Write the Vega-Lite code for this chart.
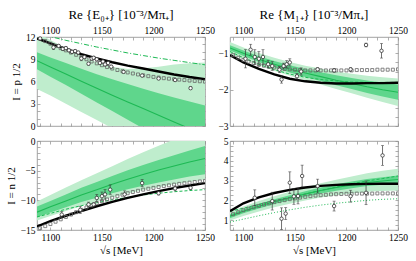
{
"$schema": "https://vega.github.io/schema/vega-lite/v6.json",
"padding": {"left": 4, "top": 8, "right": 8, "bottom": 0},
"config": {
 "view": {"stroke": "#8c8c8c", "strokeWidth": 0.8},
 "axis": {"labelFont": "Liberation Serif", "labelFontSize": 9.5, "labelColor": "#000", "titleFont": "Liberation Serif", "titleFontSize": 11, "titleFontWeight": "normal", "titleColor": "#000", "domain": false, "grid": false, "tickColor": "#8c8c8c", "tickSize": -3, "tickWidth": 0.7, "labelPadding": 5, "labelFlush": false, "labelOverlap": false, "zindex": 1},
 "title": {"font": "Liberation Serif", "fontSize": 13, "fontWeight": "normal", "color": "#000", "offset": 3}
},
"datasets": {
"band": [
{"p":"E0p","x":1087,"c":8.8,"d1":7.64,"d2":9.96,"l1":5.0,"l2":12.6},
{"p":"E0p","x":1100,"c":7.95,"d1":6.65,"d2":9.25,"l1":4.1,"l2":11.6},
{"p":"E0p","x":1115,"c":7.0,"d1":5.52,"d2":8.48,"l1":3.0,"l2":10.5},
{"p":"E0p","x":1130,"c":6.03,"d1":4.35,"d2":7.71,"l1":1.9,"l2":9.5},
{"p":"E0p","x":1145,"c":5.08,"d1":3.18,"d2":6.98,"l1":0.8,"l2":8.6},
{"p":"E0p","x":1160,"c":4.15,"d1":2.01,"d2":6.29,"l1":-0.3,"l2":8.0},
{"p":"E0p","x":1175,"c":3.25,"d1":0.85,"d2":5.65,"l1":-1.4,"l2":7.7},
{"p":"E0p","x":1190,"c":2.35,"d1":-0.33,"d2":5.03,"l1":-2.5,"l2":7.8},
{"p":"E0p","x":1205,"c":1.45,"d1":-1.53,"d2":4.43,"l1":-3.6,"l2":8.0},
{"p":"E0p","x":1220,"c":0.55,"d1":-2.75,"d2":3.85,"l1":-4.7,"l2":8.3},
{"p":"E0p","x":1235,"c":-0.35,"d1":-3.99,"d2":3.29,"l1":-5.8,"l2":8.45},
{"p":"E0p","x":1250,"c":-1.25,"d1":-5.25,"d2":2.75,"l1":-6.9,"l2":8.55},
{"p":"M1p","x":1087,"c":-0.85,"d1":-0.92,"d2":-0.78,"l1":-1.01,"l2":-0.69},
{"p":"M1p","x":1100,"c":-1.0,"d1":-1.075,"d2":-0.925,"l1":-1.16,"l2":-0.84},
{"p":"M1p","x":1115,"c":-1.16,"d1":-1.24,"d2":-1.08,"l1":-1.33,"l2":-0.99},
{"p":"M1p","x":1130,"c":-1.3,"d1":-1.39,"d2":-1.21,"l1":-1.48,"l2":-1.12},
{"p":"M1p","x":1145,"c":-1.43,"d1":-1.53,"d2":-1.33,"l1":-1.62,"l2":-1.24},
{"p":"M1p","x":1160,"c":-1.54,"d1":-1.65,"d2":-1.43,"l1":-1.74,"l2":-1.34},
{"p":"M1p","x":1175,"c":-1.64,"d1":-1.76,"d2":-1.52,"l1":-1.86,"l2":-1.42},
{"p":"M1p","x":1190,"c":-1.74,"d1":-1.875,"d2":-1.605,"l1":-1.98,"l2":-1.5},
{"p":"M1p","x":1205,"c":-1.83,"d1":-1.98,"d2":-1.68,"l1":-2.1,"l2":-1.56},
{"p":"M1p","x":1220,"c":-1.92,"d1":-2.09,"d2":-1.75,"l1":-2.22,"l2":-1.62},
{"p":"M1p","x":1235,"c":-2.0,"d1":-2.19,"d2":-1.81,"l1":-2.34,"l2":-1.66},
{"p":"M1p","x":1250,"c":-2.07,"d1":-2.28,"d2":-1.86,"l1":-2.45,"l2":-1.69},
{"p":"E0n","x":1087,"c":-12.0,"d1":-12.85,"d2":-11.05,"l1":-13.4,"l2":-10.2},
{"p":"E0n","x":1100,"c":-11.1,"d1":-12.05,"d2":-10.1,"l1":-12.65,"l2":-9.1},
{"p":"E0n","x":1115,"c":-10.1,"d1":-11.15,"d2":-9.0,"l1":-11.8,"l2":-7.85},
{"p":"E0n","x":1130,"c":-9.1,"d1":-10.3,"d2":-7.9,"l1":-10.95,"l2":-6.6},
{"p":"E0n","x":1145,"c":-8.2,"d1":-9.55,"d2":-6.9,"l1":-10.2,"l2":-5.45},
{"p":"E0n","x":1160,"c":-7.3,"d1":-8.8,"d2":-5.9,"l1":-9.5,"l2":-4.25},
{"p":"E0n","x":1175,"c":-6.45,"d1":-8.15,"d2":-4.95,"l1":-8.85,"l2":-3.05},
{"p":"E0n","x":1190,"c":-5.65,"d1":-7.55,"d2":-4.05,"l1":-8.25,"l2":-1.9},
{"p":"E0n","x":1205,"c":-4.9,"d1":-7.0,"d2":-3.2,"l1":-7.75,"l2":-0.8},
{"p":"E0n","x":1220,"c":-4.2,"d1":-6.5,"d2":-2.4,"l1":-7.3,"l2":0.25},
{"p":"E0n","x":1235,"c":-3.55,"d1":-6.0,"d2":-1.6,"l1":-6.85,"l2":1.25},
{"p":"E0n","x":1250,"c":-2.95,"d1":-5.6,"d2":-0.85,"l1":-6.5,"l2":2.25},
{"p":"M1n","x":1087,"c":1.2,"d1":1.1,"d2":1.3,"l1":0.98,"l2":1.42},
{"p":"M1n","x":1100,"c":1.45,"d1":1.35,"d2":1.55,"l1":1.21,"l2":1.69},
{"p":"M1n","x":1115,"c":1.7,"d1":1.59,"d2":1.81,"l1":1.44,"l2":1.96},
{"p":"M1n","x":1130,"c":1.93,"d1":1.81,"d2":2.05,"l1":1.65,"l2":2.21},
{"p":"M1n","x":1145,"c":2.13,"d1":2.0,"d2":2.26,"l1":1.83,"l2":2.43},
{"p":"M1n","x":1160,"c":2.32,"d1":2.18,"d2":2.46,"l1":1.99,"l2":2.65},
{"p":"M1n","x":1175,"c":2.5,"d1":2.35,"d2":2.65,"l1":2.14,"l2":2.86},
{"p":"M1n","x":1190,"c":2.65,"d1":2.49,"d2":2.81,"l1":2.26,"l2":3.04},
{"p":"M1n","x":1205,"c":2.78,"d1":2.61,"d2":2.95,"l1":2.35,"l2":3.21},
{"p":"M1n","x":1220,"c":2.9,"d1":2.72,"d2":3.08,"l1":2.43,"l2":3.37},
{"p":"M1n","x":1235,"c":2.98,"d1":2.79,"d2":3.17,"l1":2.47,"l2":3.49},
{"p":"M1n","x":1250,"c":3.05,"d1":2.85,"d2":3.25,"l1":2.5,"l2":3.6}
],
"lines": [
{"p":"E0p","k":"black","x":1087,"y":11.8},{"p":"E0p","k":"black","x":1100,"y":11.15},{"p":"E0p","k":"black","x":1115,"y":10.4},{"p":"E0p","k":"black","x":1130,"y":9.7},{"p":"E0p","k":"black","x":1145,"y":9.1},{"p":"E0p","k":"black","x":1160,"y":8.6},{"p":"E0p","k":"black","x":1175,"y":8.15},{"p":"E0p","k":"black","x":1190,"y":7.75},{"p":"E0p","k":"black","x":1205,"y":7.35},{"p":"E0p","k":"black","x":1220,"y":6.95},{"p":"E0p","k":"black","x":1235,"y":6.6},{"p":"E0p","k":"black","x":1250,"y":6.3},
{"p":"E0p","k":"dash","x":1095,"y":12.3},{"p":"E0p","k":"dash","x":1100,"y":12.05},{"p":"E0p","k":"dash","x":1115,"y":11.55},{"p":"E0p","k":"dash","x":1130,"y":11.1},{"p":"E0p","k":"dash","x":1145,"y":10.65},{"p":"E0p","k":"dash","x":1160,"y":10.25},{"p":"E0p","k":"dash","x":1175,"y":9.85},{"p":"E0p","k":"dash","x":1190,"y":9.5},{"p":"E0p","k":"dash","x":1205,"y":9.15},{"p":"E0p","k":"dash","x":1220,"y":8.85},{"p":"E0p","k":"dash","x":1235,"y":8.55},{"p":"E0p","k":"dash","x":1250,"y":8.25},
{"p":"M1p","k":"black","x":1087,"y":-1.05},{"p":"M1p","k":"black","x":1100,"y":-1.25},{"p":"M1p","k":"black","x":1115,"y":-1.43},{"p":"M1p","k":"black","x":1130,"y":-1.58},{"p":"M1p","k":"black","x":1145,"y":-1.7},{"p":"M1p","k":"black","x":1160,"y":-1.77},{"p":"M1p","k":"black","x":1175,"y":-1.81},{"p":"M1p","k":"black","x":1190,"y":-1.83},{"p":"M1p","k":"black","x":1205,"y":-1.83},{"p":"M1p","k":"black","x":1220,"y":-1.82},{"p":"M1p","k":"black","x":1235,"y":-1.82},{"p":"M1p","k":"black","x":1250,"y":-1.81},
{"p":"M1p","k":"dash","x":1087,"y":-0.95},{"p":"M1p","k":"dash","x":1100,"y":-1.12},{"p":"M1p","k":"dash","x":1115,"y":-1.3},{"p":"M1p","k":"dash","x":1130,"y":-1.45},{"p":"M1p","k":"dash","x":1145,"y":-1.57},{"p":"M1p","k":"dash","x":1160,"y":-1.66},{"p":"M1p","k":"dash","x":1175,"y":-1.72},{"p":"M1p","k":"dash","x":1190,"y":-1.76},{"p":"M1p","k":"dash","x":1205,"y":-1.79},{"p":"M1p","k":"dash","x":1220,"y":-1.8},{"p":"M1p","k":"dash","x":1235,"y":-1.8},{"p":"M1p","k":"dash","x":1250,"y":-1.8},
{"p":"E0n","k":"black","x":1087,"y":-14.4},{"p":"E0n","k":"black","x":1100,"y":-13.5},{"p":"E0n","k":"black","x":1115,"y":-12.6},{"p":"E0n","k":"black","x":1130,"y":-11.8},{"p":"E0n","k":"black","x":1145,"y":-11.0},{"p":"E0n","k":"black","x":1160,"y":-10.25},{"p":"E0n","k":"black","x":1175,"y":-9.6},{"p":"E0n","k":"black","x":1190,"y":-9.0},{"p":"E0n","k":"black","x":1205,"y":-8.45},{"p":"E0n","k":"black","x":1220,"y":-7.95},{"p":"E0n","k":"black","x":1235,"y":-7.5},{"p":"E0n","k":"black","x":1250,"y":-7.1},
{"p":"E0n","k":"dash","x":1087,"y":-12.8},{"p":"E0n","k":"dash","x":1100,"y":-12.2},{"p":"E0n","k":"dash","x":1115,"y":-11.5},{"p":"E0n","k":"dash","x":1130,"y":-10.9},{"p":"E0n","k":"dash","x":1145,"y":-10.4},{"p":"E0n","k":"dash","x":1160,"y":-9.9},{"p":"E0n","k":"dash","x":1175,"y":-9.5},{"p":"E0n","k":"dash","x":1190,"y":-9.1},{"p":"E0n","k":"dash","x":1205,"y":-8.8},{"p":"E0n","k":"dash","x":1220,"y":-8.55},{"p":"E0n","k":"dash","x":1235,"y":-8.35},{"p":"E0n","k":"dash","x":1250,"y":-8.2},
{"p":"M1n","k":"black","x":1087,"y":1.45},{"p":"M1n","k":"black","x":1100,"y":1.85},{"p":"M1n","k":"black","x":1115,"y":2.15},{"p":"M1n","k":"black","x":1130,"y":2.37},{"p":"M1n","k":"black","x":1145,"y":2.53},{"p":"M1n","k":"black","x":1160,"y":2.65},{"p":"M1n","k":"black","x":1175,"y":2.73},{"p":"M1n","k":"black","x":1190,"y":2.78},{"p":"M1n","k":"black","x":1205,"y":2.81},{"p":"M1n","k":"black","x":1220,"y":2.83},{"p":"M1n","k":"black","x":1235,"y":2.84},{"p":"M1n","k":"black","x":1250,"y":2.84},
{"p":"M1n","k":"dash","x":1087,"y":1.45},{"p":"M1n","k":"dash","x":1100,"y":1.6},{"p":"M1n","k":"dash","x":1115,"y":1.8},{"p":"M1n","k":"dash","x":1130,"y":1.98},{"p":"M1n","k":"dash","x":1145,"y":2.15},{"p":"M1n","k":"dash","x":1160,"y":2.32},{"p":"M1n","k":"dash","x":1175,"y":2.5},{"p":"M1n","k":"dash","x":1190,"y":2.67},{"p":"M1n","k":"dash","x":1205,"y":2.83},{"p":"M1n","k":"dash","x":1220,"y":2.98},{"p":"M1n","k":"dash","x":1235,"y":3.1},{"p":"M1n","k":"dash","x":1250,"y":3.23},
{"p":"M1n","k":"dot","x":1087,"y":0.9},{"p":"M1n","k":"dot","x":1100,"y":1.05},{"p":"M1n","k":"dot","x":1115,"y":1.22},{"p":"M1n","k":"dot","x":1130,"y":1.38},{"p":"M1n","k":"dot","x":1145,"y":1.52},{"p":"M1n","k":"dot","x":1160,"y":1.65},{"p":"M1n","k":"dot","x":1175,"y":1.76},{"p":"M1n","k":"dot","x":1190,"y":1.85},{"p":"M1n","k":"dot","x":1205,"y":1.93},{"p":"M1n","k":"dot","x":1220,"y":2.0},{"p":"M1n","k":"dot","x":1235,"y":2.05},{"p":"M1n","k":"dot","x":1250,"y":2.08}
],
"sq": [
{"p":"E0p","x":1090,"y":11.8},{"p":"E0p","x":1095,"y":11.45},{"p":"E0p","x":1100,"y":11.1},{"p":"E0p","x":1105,"y":10.8},{"p":"E0p","x":1110,"y":10.5},{"p":"E0p","x":1115,"y":10.2},{"p":"E0p","x":1120,"y":9.9},{"p":"E0p","x":1125,"y":9.6},{"p":"E0p","x":1130,"y":9.3},{"p":"E0p","x":1135,"y":9.0},{"p":"E0p","x":1140,"y":8.7},{"p":"E0p","x":1145,"y":8.45},{"p":"E0p","x":1150,"y":8.2},{"p":"E0p","x":1155,"y":7.95},{"p":"E0p","x":1160,"y":7.75},{"p":"E0p","x":1165,"y":7.55},{"p":"E0p","x":1170,"y":7.38},{"p":"E0p","x":1175,"y":7.22},{"p":"E0p","x":1180,"y":7.08},{"p":"E0p","x":1185,"y":6.95},{"p":"E0p","x":1190,"y":6.83},{"p":"E0p","x":1195,"y":6.72},{"p":"E0p","x":1200,"y":6.62},{"p":"E0p","x":1205,"y":6.53},{"p":"E0p","x":1210,"y":6.45},{"p":"E0p","x":1215,"y":6.38},{"p":"E0p","x":1220,"y":6.31},{"p":"E0p","x":1225,"y":6.25},{"p":"E0p","x":1230,"y":6.19},{"p":"E0p","x":1235,"y":6.13},{"p":"E0p","x":1240,"y":6.08},{"p":"E0p","x":1245,"y":6.03},{"p":"E0p","x":1250,"y":5.98},
{"p":"M1p","x":1090,"y":-1.05},{"p":"M1p","x":1095,"y":-1.12},{"p":"M1p","x":1100,"y":-1.18},{"p":"M1p","x":1105,"y":-1.23},{"p":"M1p","x":1110,"y":-1.27},{"p":"M1p","x":1115,"y":-1.31},{"p":"M1p","x":1120,"y":-1.34},{"p":"M1p","x":1125,"y":-1.37},{"p":"M1p","x":1130,"y":-1.39},{"p":"M1p","x":1135,"y":-1.41},{"p":"M1p","x":1140,"y":-1.43},{"p":"M1p","x":1145,"y":-1.44},{"p":"M1p","x":1150,"y":-1.45},{"p":"M1p","x":1155,"y":-1.46},{"p":"M1p","x":1160,"y":-1.47},{"p":"M1p","x":1165,"y":-1.47},{"p":"M1p","x":1170,"y":-1.47},{"p":"M1p","x":1175,"y":-1.47},{"p":"M1p","x":1180,"y":-1.47},{"p":"M1p","x":1185,"y":-1.47},{"p":"M1p","x":1190,"y":-1.47},{"p":"M1p","x":1195,"y":-1.47},{"p":"M1p","x":1200,"y":-1.47},{"p":"M1p","x":1205,"y":-1.47},{"p":"M1p","x":1210,"y":-1.46},{"p":"M1p","x":1215,"y":-1.46},{"p":"M1p","x":1220,"y":-1.46},{"p":"M1p","x":1225,"y":-1.46},{"p":"M1p","x":1230,"y":-1.45},{"p":"M1p","x":1235,"y":-1.45},{"p":"M1p","x":1240,"y":-1.45},{"p":"M1p","x":1245,"y":-1.45},{"p":"M1p","x":1250,"y":-1.44},
{"p":"E0n","x":1090,"y":-14.7},{"p":"E0n","x":1095,"y":-14.35},{"p":"E0n","x":1100,"y":-14.0},{"p":"E0n","x":1105,"y":-13.6},{"p":"E0n","x":1110,"y":-13.2},{"p":"E0n","x":1115,"y":-12.8},{"p":"E0n","x":1120,"y":-12.4},{"p":"E0n","x":1125,"y":-12.0},{"p":"E0n","x":1130,"y":-11.6},{"p":"E0n","x":1135,"y":-11.2},{"p":"E0n","x":1140,"y":-10.85},{"p":"E0n","x":1145,"y":-10.5},{"p":"E0n","x":1150,"y":-10.15},{"p":"E0n","x":1155,"y":-9.85},{"p":"E0n","x":1160,"y":-9.55},{"p":"E0n","x":1165,"y":-9.3},{"p":"E0n","x":1170,"y":-9.05},{"p":"E0n","x":1175,"y":-8.8},{"p":"E0n","x":1180,"y":-8.6},{"p":"E0n","x":1185,"y":-8.4},{"p":"E0n","x":1190,"y":-8.2},{"p":"E0n","x":1195,"y":-8.05},{"p":"E0n","x":1200,"y":-7.9},{"p":"E0n","x":1205,"y":-7.75},{"p":"E0n","x":1210,"y":-7.6},{"p":"E0n","x":1215,"y":-7.47},{"p":"E0n","x":1220,"y":-7.35},{"p":"E0n","x":1225,"y":-7.23},{"p":"E0n","x":1230,"y":-7.12},{"p":"E0n","x":1235,"y":-7.02},{"p":"E0n","x":1240,"y":-6.92},{"p":"E0n","x":1245,"y":-6.82},{"p":"E0n","x":1250,"y":-6.73},
{"p":"M1n","x":1090,"y":1.3},{"p":"M1n","x":1095,"y":1.4},{"p":"M1n","x":1100,"y":1.5},{"p":"M1n","x":1105,"y":1.58},{"p":"M1n","x":1110,"y":1.65},{"p":"M1n","x":1115,"y":1.72},{"p":"M1n","x":1120,"y":1.79},{"p":"M1n","x":1125,"y":1.85},{"p":"M1n","x":1130,"y":1.91},{"p":"M1n","x":1135,"y":1.96},{"p":"M1n","x":1140,"y":2.01},{"p":"M1n","x":1145,"y":2.06},{"p":"M1n","x":1150,"y":2.1},{"p":"M1n","x":1155,"y":2.14},{"p":"M1n","x":1160,"y":2.18},{"p":"M1n","x":1165,"y":2.21},{"p":"M1n","x":1170,"y":2.24},{"p":"M1n","x":1175,"y":2.26},{"p":"M1n","x":1180,"y":2.28},{"p":"M1n","x":1185,"y":2.3},{"p":"M1n","x":1190,"y":2.31},{"p":"M1n","x":1195,"y":2.32},{"p":"M1n","x":1200,"y":2.33},{"p":"M1n","x":1205,"y":2.33},{"p":"M1n","x":1210,"y":2.34},{"p":"M1n","x":1215,"y":2.34},{"p":"M1n","x":1220,"y":2.34},{"p":"M1n","x":1225,"y":2.34},{"p":"M1n","x":1230,"y":2.35},{"p":"M1n","x":1235,"y":2.35},{"p":"M1n","x":1240,"y":2.35},{"p":"M1n","x":1245,"y":2.35},{"p":"M1n","x":1250,"y":2.35}
],
"pts": [
{"p":"E0p","x":1090,"y":11.8,"e":0.15},{"p":"E0p","x":1103,"y":10.6,"e":0.3},{"p":"E0p","x":1108,"y":10.8,"e":0.2},{"p":"E0p","x":1112,"y":10.4,"e":0.2},{"p":"E0p","x":1115,"y":10.5,"e":0.2},{"p":"E0p","x":1118,"y":10.2,"e":0.2},{"p":"E0p","x":1121,"y":10.0,"e":0.2},{"p":"E0p","x":1124,"y":10.1,"e":0.2},{"p":"E0p","x":1127,"y":9.9,"e":0.2},{"p":"E0p","x":1130,"y":9.1,"e":0.3},{"p":"E0p","x":1133,"y":9.3,"e":0.2},{"p":"E0p","x":1137,"y":8.4,"e":0.2},{"p":"E0p","x":1140,"y":9.1,"e":0.2},{"p":"E0p","x":1142,"y":9.2,"e":0.2},{"p":"E0p","x":1145,"y":9.0,"e":0.2},{"p":"E0p","x":1148,"y":8.5,"e":0.2},{"p":"E0p","x":1151,"y":8.7,"e":0.2},{"p":"E0p","x":1153,"y":8.3,"e":0.2},{"p":"E0p","x":1156,"y":8.5,"e":0.3},{"p":"E0p","x":1159,"y":8.0,"e":0.2},{"p":"E0p","x":1171,"y":7.3,"e":0.15},{"p":"E0p","x":1189,"y":6.8,"e":0.15},{"p":"E0p","x":1205,"y":6.4,"e":0.15},{"p":"E0p","x":1221,"y":6.2,"e":0.15},{"p":"E0p","x":1236,"y":5.1,"e":0.2},
{"p":"M1p","x":1102,"y":-1.15,"e":0.25},{"p":"M1p","x":1107,"y":-0.9,"e":0.15},{"p":"M1p","x":1111,"y":-1.1,"e":0.2},{"p":"M1p","x":1115,"y":-1.15,"e":0.2},{"p":"M1p","x":1119,"y":-1.1,"e":0.2},{"p":"M1p","x":1124,"y":-1.3,"e":0.1},{"p":"M1p","x":1128,"y":-1.35,"e":0.12},{"p":"M1p","x":1135,"y":-1.45,"e":0.08},{"p":"M1p","x":1137,"y":-1.72,"e":0.1},{"p":"M1p","x":1139,"y":-1.35,"e":0.08},{"p":"M1p","x":1142,"y":-1.3,"e":0.1},{"p":"M1p","x":1145,"y":-1.25,"e":0.1},{"p":"M1p","x":1152,"y":-1.63,"e":0.08},{"p":"M1p","x":1156,"y":-1.5,"e":0.1},{"p":"M1p","x":1172,"y":-1.44,"e":0.05},{"p":"M1p","x":1188,"y":-1.47,"e":0.05},{"p":"M1p","x":1204,"y":-1.44,"e":0.05},{"p":"M1p","x":1219,"y":-0.77,"e":0.05},{"p":"M1p","x":1234,"y":-0.93,"e":0.2},
{"p":"E0n","x":1111,"y":-12.4,"e":0.5},{"p":"E0n","x":1129,"y":-11.6,"e":0.6},{"p":"E0n","x":1137,"y":-10.7,"e":0.4},{"p":"E0n","x":1142,"y":-10.7,"e":0.3},{"p":"E0n","x":1145,"y":-9.6,"e":0.6},{"p":"E0n","x":1150,"y":-9.3,"e":0.7},{"p":"E0n","x":1153,"y":-9.0,"e":0.8},{"p":"E0n","x":1158,"y":-8.2,"e":0.8},{"p":"E0n","x":1172,"y":-9.0,"e":0.6},{"p":"E0n","x":1189,"y":-7.1,"e":0.6},{"p":"E0n","x":1205,"y":-8.8,"e":0.3},{"p":"E0n","x":1221,"y":-8.0,"e":0.4},{"p":"E0n","x":1236,"y":-7.9,"e":0.3},
{"p":"M1n","x":1111,"y":2.13,"e":0.4},{"p":"M1n","x":1128,"y":1.96,"e":0.45},{"p":"M1n","x":1137,"y":1.07,"e":0.55},{"p":"M1n","x":1141,"y":1.33,"e":0.3},{"p":"M1n","x":1145,"y":2.89,"e":0.55},{"p":"M1n","x":1149,"y":2.2,"e":0.4},{"p":"M1n","x":1153,"y":2.22,"e":0.4},{"p":"M1n","x":1157,"y":3.23,"e":0.55},{"p":"M1n","x":1172,"y":2.72,"e":0.35},{"p":"M1n","x":1188,"y":1.71,"e":0.25},{"p":"M1n","x":1204,"y":2.21,"e":0.3},{"p":"M1n","x":1219,"y":2.38,"e":0.6},{"p":"M1n","x":1235,"y":4.27,"e":0.5}
]
},
"columns": 2,
"spacing": {"row": 15, "column": 25},
"bounds": "flush",
"concat": [
{
 "width": 168, "height": 89,
 "title": {"text": "Re {E₀₊} [10⁻³/Mπ₊]"},
 "encoding": {"x": {"field": "x", "type": "quantitative", "scale": {"domain": [1087, 1250], "nice": false, "zero": false}, "axis": null}},
 "layer": [
  {"data": {"name": "band"}, "transform": [{"filter": "datum.p === 'E0p'"}], "mark": {"type": "area", "color": "#bfedcd", "clip": true},
   "encoding": {"x": {"field": "x", "type": "quantitative", "scale": {"domain": [1087, 1250], "nice": false, "zero": false}, "axis": {"orient": "top", "values": [1090,1100,1110,1120,1130,1140,1150,1160,1170,1180,1190,1200,1210,1220,1230,1240,1250], "format": "d", "labelExpr": "datum.value % 50 === 0 ? datum.label : ''", "title": null}},
    "y": {"field": "l1", "type": "quantitative", "scale": {"domain": [0, 12], "nice": false, "zero": false}, "axis": {"orient": "left", "values": [0,1,2,3,4,5,6,7,8,9,10,11,12], "format": "d", "labelExpr": "datum.value % 3 === 0 ? datum.label : ''", "title": "I = p 1/2"}},
    "y2": {"field": "l2"}}},
  {"data": {"name": "band"}, "transform": [{"filter": "datum.p === 'E0p'"}], "mark": {"type": "area", "color": "#5fd68c", "clip": true},
   "encoding": {"x": {"field": "x", "type": "quantitative", "scale": {"domain": [1087, 1250], "nice": false, "zero": false}, "axis": {"orient": "bottom", "values": [1090,1100,1110,1120,1130,1140,1150,1160,1170,1180,1190,1200,1210,1220,1230,1240,1250], "labels": false, "title": null}},
    "y": {"field": "d1", "type": "quantitative", "scale": {"domain": [0, 12], "nice": false, "zero": false}, "axis": {"orient": "right", "values": [0,1,2,3,4,5,6,7,8,9,10,11,12], "labels": false, "title": null}},
    "y2": {"field": "d2"}}},
  {"data": {"name": "band"}, "transform": [{"filter": "datum.p === 'E0p'"}], "mark": {"type": "line", "color": "#1db954", "strokeWidth": 1.1, "clip": true},
   "encoding": {"y": {"field": "c", "type": "quantitative", "scale": {"domain": [0, 12], "nice": false, "zero": false}, "axis": null}}},
  {"data": {"name": "lines"}, "transform": [{"filter": "datum.p === 'E0p' && datum.k === 'dash'"}], "mark": {"type": "line", "color": "#1db954", "strokeWidth": 1, "strokeDash": [5, 2, 1, 2], "clip": true},
   "encoding": {"y": {"field": "y", "type": "quantitative", "scale": {"domain": [0, 12], "nice": false, "zero": false}, "axis": null}}},
  {"data": {"name": "lines"}, "transform": [{"filter": "datum.p === 'E0p' && datum.k === 'black'"}], "mark": {"type": "line", "color": "#000", "strokeWidth": 2.4, "clip": true},
   "encoding": {"y": {"field": "y", "type": "quantitative", "scale": {"domain": [0, 12], "nice": false, "zero": false}, "axis": null}}},
  {"data": {"name": "sq"}, "transform": [{"filter": "datum.p === 'E0p'"}], "mark": {"type": "point", "shape": "square", "size": 9, "filled": false, "color": "#666", "strokeWidth": 0.8, "opacity": 1, "clip": true},
   "encoding": {"y": {"field": "y", "type": "quantitative", "scale": {"domain": [0, 12], "nice": false, "zero": false}, "axis": null}}},
  {"data": {"name": "pts"}, "transform": [{"filter": "datum.p === 'E0p'"}], "mark": {"type": "errorbar", "ticks": {"size": 3}, "color": "#333", "thickness": 0.7},
   "encoding": {"y": {"field": "y", "type": "quantitative", "scale": {"domain": [0, 12], "nice": false, "zero": false}, "axis": null}, "yError": {"field": "e"}}},
  {"data": {"name": "pts"}, "transform": [{"filter": "datum.p === 'E0p'"}], "mark": {"type": "point", "shape": "circle", "size": 12, "filled": true, "fill": "white", "stroke": "#333", "strokeWidth": 0.8, "opacity": 1},
   "encoding": {"y": {"field": "y", "type": "quantitative", "scale": {"domain": [0, 12], "nice": false, "zero": false}, "axis": null}}}
 ],
 "resolve": {"axis": {"x": "independent", "y": "independent"}}
},
{
 "width": 168, "height": 89,
 "title": {"text": "Re {M₁₊} [10⁻³/Mπ₊]"},
 "encoding": {"x": {"field": "x", "type": "quantitative", "scale": {"domain": [1087, 1250], "nice": false, "zero": false}, "axis": null}},
 "layer": [
  {"data": {"name": "band"}, "transform": [{"filter": "datum.p === 'M1p'"}], "mark": {"type": "area", "color": "#bfedcd", "clip": true},
   "encoding": {"x": {"field": "x", "type": "quantitative", "scale": {"domain": [1087, 1250], "nice": false, "zero": false}, "axis": {"orient": "top", "values": [1090,1100,1110,1120,1130,1140,1150,1160,1170,1180,1190,1200,1210,1220,1230,1240,1250], "format": "d", "labelExpr": "datum.value % 50 === 0 ? datum.label : ''", "title": null}},
    "y": {"field": "l1", "type": "quantitative", "scale": {"domain": [-3, -0.55], "nice": false, "zero": false}, "axis": {"orient": "left", "values": [-3,-2.75,-2.5,-2.25,-2,-1.75,-1.5,-1.25,-1,-0.75], "format": "d", "labelExpr": "datum.value === round(datum.value) ? datum.label : ''", "title": null}},
    "y2": {"field": "l2"}}},
  {"data": {"name": "band"}, "transform": [{"filter": "datum.p === 'M1p'"}], "mark": {"type": "area", "color": "#5fd68c", "clip": true},
   "encoding": {"x": {"field": "x", "type": "quantitative", "scale": {"domain": [1087, 1250], "nice": false, "zero": false}, "axis": {"orient": "bottom", "values": [1090,1100,1110,1120,1130,1140,1150,1160,1170,1180,1190,1200,1210,1220,1230,1240,1250], "labels": false, "title": null}},
    "y": {"field": "d1", "type": "quantitative", "scale": {"domain": [-3, -0.55], "nice": false, "zero": false}, "axis": {"orient": "right", "values": [-3,-2.75,-2.5,-2.25,-2,-1.75,-1.5,-1.25,-1,-0.75], "labels": false, "title": null}},
    "y2": {"field": "d2"}}},
  {"data": {"name": "band"}, "transform": [{"filter": "datum.p === 'M1p'"}], "mark": {"type": "line", "color": "#1db954", "strokeWidth": 1.1, "clip": true},
   "encoding": {"y": {"field": "c", "type": "quantitative", "scale": {"domain": [-3, -0.55], "nice": false, "zero": false}, "axis": null}}},
  {"data": {"name": "lines"}, "transform": [{"filter": "datum.p === 'M1p' && datum.k === 'dash'"}], "mark": {"type": "line", "color": "#1db954", "strokeWidth": 1, "strokeDash": [3, 2], "clip": true},
   "encoding": {"y": {"field": "y", "type": "quantitative", "scale": {"domain": [-3, -0.55], "nice": false, "zero": false}, "axis": null}}},
  {"data": {"name": "lines"}, "transform": [{"filter": "datum.p === 'M1p' && datum.k === 'black'"}], "mark": {"type": "line", "color": "#000", "strokeWidth": 2.4, "clip": true},
   "encoding": {"y": {"field": "y", "type": "quantitative", "scale": {"domain": [-3, -0.55], "nice": false, "zero": false}, "axis": null}}},
  {"data": {"name": "sq"}, "transform": [{"filter": "datum.p === 'M1p'"}], "mark": {"type": "point", "shape": "square", "size": 9, "filled": false, "color": "#666", "strokeWidth": 0.8, "opacity": 1, "clip": true},
   "encoding": {"y": {"field": "y", "type": "quantitative", "scale": {"domain": [-3, -0.55], "nice": false, "zero": false}, "axis": null}}},
  {"data": {"name": "pts"}, "transform": [{"filter": "datum.p === 'M1p'"}], "mark": {"type": "errorbar", "ticks": {"size": 3}, "color": "#333", "thickness": 0.7},
   "encoding": {"y": {"field": "y", "type": "quantitative", "scale": {"domain": [-3, -0.55], "nice": false, "zero": false}, "axis": null}, "yError": {"field": "e"}}},
  {"data": {"name": "pts"}, "transform": [{"filter": "datum.p === 'M1p'"}], "mark": {"type": "point", "shape": "circle", "size": 12, "filled": true, "fill": "white", "stroke": "#333", "strokeWidth": 0.8, "opacity": 1},
   "encoding": {"y": {"field": "y", "type": "quantitative", "scale": {"domain": [-3, -0.55], "nice": false, "zero": false}, "axis": null}}}
 ],
 "resolve": {"axis": {"x": "independent", "y": "independent"}}
},
{
 "width": 168, "height": 89,
 "encoding": {"x": {"field": "x", "type": "quantitative", "scale": {"domain": [1087, 1250], "nice": false, "zero": false}, "axis": null}},
 "layer": [
  {"data": {"name": "band"}, "transform": [{"filter": "datum.p === 'E0n'"}], "mark": {"type": "area", "color": "#bfedcd", "clip": true},
   "encoding": {"x": {"field": "x", "type": "quantitative", "scale": {"domain": [1087, 1250], "nice": false, "zero": false}, "axis": {"orient": "bottom", "values": [1090,1100,1110,1120,1130,1140,1150,1160,1170,1180,1190,1200,1210,1220,1230,1240,1250], "format": "d", "labelExpr": "datum.value % 50 === 0 ? datum.label : ''", "title": "√s [MeV]", "titlePadding": 3}},
    "y": {"field": "l1", "type": "quantitative", "scale": {"domain": [-15, 0], "nice": false, "zero": false}, "axis": {"orient": "left", "values": [-15,-14,-13,-12,-11,-10,-9,-8,-7,-6,-5,-4,-3,-2,-1,0], "format": "d", "labelExpr": "datum.value % 5 === 0 ? datum.label : ''", "title": "I = n 1/2"}},
    "y2": {"field": "l2"}}},
  {"data": {"name": "band"}, "transform": [{"filter": "datum.p === 'E0n'"}], "mark": {"type": "area", "color": "#5fd68c", "clip": true},
   "encoding": {"x": {"field": "x", "type": "quantitative", "scale": {"domain": [1087, 1250], "nice": false, "zero": false}, "axis": {"orient": "top", "values": [1090,1100,1110,1120,1130,1140,1150,1160,1170,1180,1190,1200,1210,1220,1230,1240,1250], "labels": false, "title": null}},
    "y": {"field": "d1", "type": "quantitative", "scale": {"domain": [-15, 0], "nice": false, "zero": false}, "axis": {"orient": "right", "values": [-15,-14,-13,-12,-11,-10,-9,-8,-7,-6,-5,-4,-3,-2,-1,0], "labels": false, "title": null}},
    "y2": {"field": "d2"}}},
  {"data": {"name": "band"}, "transform": [{"filter": "datum.p === 'E0n'"}], "mark": {"type": "line", "color": "#1db954", "strokeWidth": 1.1, "clip": true},
   "encoding": {"y": {"field": "c", "type": "quantitative", "scale": {"domain": [-15, 0], "nice": false, "zero": false}, "axis": null}}},
  {"data": {"name": "lines"}, "transform": [{"filter": "datum.p === 'E0n' && datum.k === 'dash'"}], "mark": {"type": "line", "color": "#1db954", "strokeWidth": 1, "strokeDash": [3, 2], "clip": true},
   "encoding": {"y": {"field": "y", "type": "quantitative", "scale": {"domain": [-15, 0], "nice": false, "zero": false}, "axis": null}}},
  {"data": {"name": "lines"}, "transform": [{"filter": "datum.p === 'E0n' && datum.k === 'black'"}], "mark": {"type": "line", "color": "#000", "strokeWidth": 2.4, "clip": true},
   "encoding": {"y": {"field": "y", "type": "quantitative", "scale": {"domain": [-15, 0], "nice": false, "zero": false}, "axis": null}}},
  {"data": {"name": "sq"}, "transform": [{"filter": "datum.p === 'E0n'"}], "mark": {"type": "point", "shape": "square", "size": 9, "filled": false, "color": "#666", "strokeWidth": 0.8, "opacity": 1, "clip": true},
   "encoding": {"y": {"field": "y", "type": "quantitative", "scale": {"domain": [-15, 0], "nice": false, "zero": false}, "axis": null}}},
  {"data": {"name": "pts"}, "transform": [{"filter": "datum.p === 'E0n'"}], "mark": {"type": "errorbar", "ticks": {"size": 3}, "color": "#333", "thickness": 0.7},
   "encoding": {"y": {"field": "y", "type": "quantitative", "scale": {"domain": [-15, 0], "nice": false, "zero": false}, "axis": null}, "yError": {"field": "e"}}},
  {"data": {"name": "pts"}, "transform": [{"filter": "datum.p === 'E0n'"}], "mark": {"type": "point", "shape": "circle", "size": 12, "filled": true, "fill": "white", "stroke": "#333", "strokeWidth": 0.8, "opacity": 1},
   "encoding": {"y": {"field": "y", "type": "quantitative", "scale": {"domain": [-15, 0], "nice": false, "zero": false}, "axis": null}}}
 ],
 "resolve": {"axis": {"x": "independent", "y": "independent"}}
},
{
 "width": 168, "height": 89,
 "encoding": {"x": {"field": "x", "type": "quantitative", "scale": {"domain": [1087, 1250], "nice": false, "zero": false}, "axis": null}},
 "layer": [
  {"data": {"name": "band"}, "transform": [{"filter": "datum.p === 'M1n'"}], "mark": {"type": "area", "color": "#bfedcd", "clip": true},
   "encoding": {"x": {"field": "x", "type": "quantitative", "scale": {"domain": [1087, 1250], "nice": false, "zero": false}, "axis": {"orient": "bottom", "values": [1090,1100,1110,1120,1130,1140,1150,1160,1170,1180,1190,1200,1210,1220,1230,1240,1250], "format": "d", "labelExpr": "datum.value % 50 === 0 ? datum.label : ''", "title": "√s [MeV]", "titlePadding": 3}},
    "y": {"field": "l1", "type": "quantitative", "scale": {"domain": [0.5, 5], "nice": false, "zero": false}, "axis": {"orient": "left", "values": [0.5,0.75,1,1.25,1.5,1.75,2,2.25,2.5,2.75,3,3.25,3.5,3.75,4,4.25,4.5,4.75,5], "labelExpr": "(datum.value === 1 || datum.value === 2 || datum.value === 3 || datum.value === 4 || datum.value === 5) ? format(datum.value, 'd') : ''", "labelOverlap": false, "title": null}},
    "y2": {"field": "l2"}}},
  {"data": {"name": "band"}, "transform": [{"filter": "datum.p === 'M1n'"}], "mark": {"type": "area", "color": "#5fd68c", "clip": true},
   "encoding": {"x": {"field": "x", "type": "quantitative", "scale": {"domain": [1087, 1250], "nice": false, "zero": false}, "axis": {"orient": "top", "values": [1090,1100,1110,1120,1130,1140,1150,1160,1170,1180,1190,1200,1210,1220,1230,1240,1250], "labels": false, "title": null}},
    "y": {"field": "d1", "type": "quantitative", "scale": {"domain": [0.5, 5], "nice": false, "zero": false}, "axis": {"orient": "right", "values": [0.5,0.75,1,1.25,1.5,1.75,2,2.25,2.5,2.75,3,3.25,3.5,3.75,4,4.25,4.5,4.75,5], "labels": false, "title": null}},
    "y2": {"field": "d2"}}},
  {"data": {"name": "band"}, "transform": [{"filter": "datum.p === 'M1n'"}], "mark": {"type": "line", "color": "#1db954", "strokeWidth": 1.1, "clip": true},
   "encoding": {"y": {"field": "c", "type": "quantitative", "scale": {"domain": [0.5, 5], "nice": false, "zero": false}, "axis": null}}},
  {"data": {"name": "lines"}, "transform": [{"filter": "datum.p === 'M1n' && datum.k === 'dash'"}], "mark": {"type": "line", "color": "#1db954", "strokeWidth": 1, "strokeDash": [3, 2], "clip": true},
   "encoding": {"y": {"field": "y", "type": "quantitative", "scale": {"domain": [0.5, 5], "nice": false, "zero": false}, "axis": null}}},
  {"data": {"name": "lines"}, "transform": [{"filter": "datum.p === 'M1n' && datum.k === 'dot'"}], "mark": {"type": "line", "color": "#1db954", "strokeWidth": 1, "strokeDash": [1, 2], "clip": true},
   "encoding": {"y": {"field": "y", "type": "quantitative", "scale": {"domain": [0.5, 5], "nice": false, "zero": false}, "axis": null}}},
  {"data": {"name": "lines"}, "transform": [{"filter": "datum.p === 'M1n' && datum.k === 'black'"}], "mark": {"type": "line", "color": "#000", "strokeWidth": 2.4, "clip": true},
   "encoding": {"y": {"field": "y", "type": "quantitative", "scale": {"domain": [0.5, 5], "nice": false, "zero": false}, "axis": null}}},
  {"data": {"name": "sq"}, "transform": [{"filter": "datum.p === 'M1n'"}], "mark": {"type": "point", "shape": "square", "size": 9, "filled": false, "color": "#666", "strokeWidth": 0.8, "opacity": 1, "clip": true},
   "encoding": {"y": {"field": "y", "type": "quantitative", "scale": {"domain": [0.5, 5], "nice": false, "zero": false}, "axis": null}}},
  {"data": {"name": "pts"}, "transform": [{"filter": "datum.p === 'M1n'"}], "mark": {"type": "errorbar", "ticks": {"size": 3}, "color": "#333", "thickness": 0.7},
   "encoding": {"y": {"field": "y", "type": "quantitative", "scale": {"domain": [0.5, 5], "nice": false, "zero": false}, "axis": null}, "yError": {"field": "e"}}},
  {"data": {"name": "pts"}, "transform": [{"filter": "datum.p === 'M1n'"}], "mark": {"type": "point", "shape": "circle", "size": 12, "filled": true, "fill": "white", "stroke": "#333", "strokeWidth": 0.8, "opacity": 1},
   "encoding": {"y": {"field": "y", "type": "quantitative", "scale": {"domain": [0.5, 5], "nice": false, "zero": false}, "axis": null}}}
 ],
 "resolve": {"axis": {"x": "independent", "y": "independent"}}
}
]
}
